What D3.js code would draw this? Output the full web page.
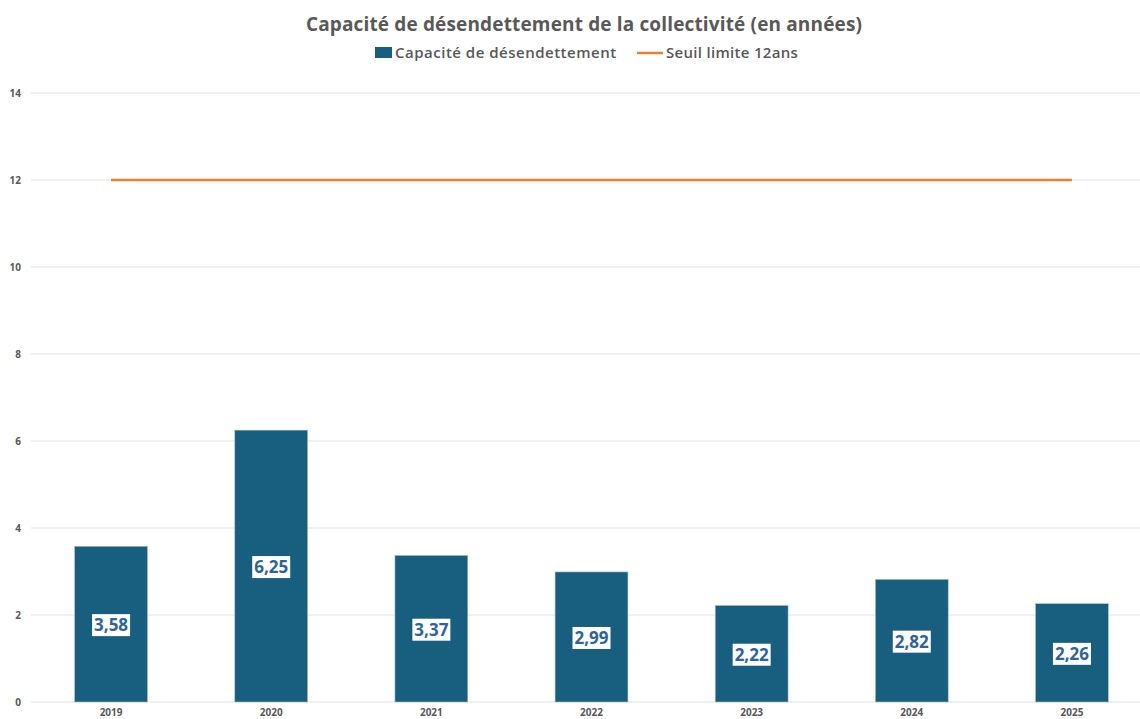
<!DOCTYPE html>
<html>
<head>
<meta charset="utf-8">
<script src="https://cdn.jsdelivr.net/npm/d3@7"></script>
<style>
  body { margin: 0; background: #fff; }
  svg { display: block; font-family: "Open Sans", "DejaVu Sans", sans-serif; }
</style>
</head>
<body>
<svg id="chart"></svg>
<script>
// data
const years = ["2019", "2020", "2021", "2022", "2023", "2024", "2025"];
const capacite = [3.58, 6.25, 3.37, 2.99, 2.22, 2.82, 2.26];
const seuil = [12, 12, 12, 12, 12, 12, 12];
const yTicks = [0, 2, 4, 6, 8, 10, 12, 14];
const legendLabels = ["Capacité de désendettement", "Seuil limite 12ans"];

const width = 1140, height = 719;
const margin = { top: 93, right: -12, bottom: 17, left: 31 };

const barColor = "#175e7f";
const lineColor = "#ed7d31";
const textColor = "#595959";

const svg = d3.select("#chart")
  .attr("width", width)
  .attr("height", height);

const x = d3.scaleBand()
  .domain(years)
  .range([margin.left, width - margin.right])
  .paddingInner(0.545)
  .paddingOuter(0.2725);

const y = d3.scaleLinear()
  .domain([0, 14])
  .range([height - margin.bottom, margin.top]);

// title
svg.append("text")
  .attr("x", 584)
  .attr("y", 31)
  .attr("text-anchor", "middle")
  .attr("font-size", 19)
  .attr("font-weight", "bold")
  .attr("letter-spacing", 0.15)
  .attr("fill", textColor)
  .text("Capacité de désendettement de la collectivité (en années)");

// legend
const legend = svg.append("g");
legend.append("rect")
  .attr("x", 375).attr("y", 47).attr("width", 17).attr("height", 11)
  .attr("fill", barColor);
legend.append("text")
  .attr("x", 395).attr("y", 58)
  .attr("font-size", 15).attr("font-weight", 600).attr("fill", textColor)
  .attr("letter-spacing", 0.5)
  .text(legendLabels[0]);
legend.append("line")
  .attr("x1", 637).attr("x2", 663).attr("y1", 53).attr("y2", 53)
  .attr("stroke", lineColor).attr("stroke-width", 2.5);
legend.append("text")
  .attr("x", 666).attr("y", 58)
  .attr("font-size", 15).attr("font-weight", 600).attr("fill", textColor)
  .attr("letter-spacing", 0.3)
  .text(legendLabels[1]);

// gridlines
svg.append("g")
  .selectAll("line")
  .data(yTicks)
  .enter().append("line")
  .attr("x1", margin.left)
  .attr("x2", width)
  .attr("y1", d => y(d))
  .attr("y2", d => y(d))
  .attr("stroke", "#e3e3e3")
  .attr("stroke-width", 1);

// y axis labels
const yAxis = svg.append("g")
  .attr("transform", `translate(${margin.left - 10},0)`)
  .call(d3.axisLeft(y).tickValues(yTicks).tickSize(0).tickPadding(0));
yAxis.select(".domain").remove();
yAxis.selectAll("text")
  .attr("font-size", 10)
  .attr("font-weight", "bold")
  .attr("font-family", "\"Open Sans\", sans-serif")
  .attr("fill", textColor);

// x axis labels
const xAxis = svg.append("g")
  .attr("transform", `translate(0,${height - margin.bottom})`)
  .call(d3.axisBottom(x).tickSize(0).tickPadding(7));
xAxis.select(".domain").remove();
xAxis.selectAll("text")
  .attr("font-size", 10)
  .attr("font-weight", "bold")
  .attr("font-family", "\"Open Sans\", sans-serif")
  .attr("fill", textColor);

// bars
svg.append("g")
  .selectAll("rect")
  .data(capacite)
  .enter().append("rect")
  .attr("x", (d, i) => x(years[i]))
  .attr("y", d => y(d))
  .attr("width", x.bandwidth())
  .attr("height", d => y(0) - y(d))
  .attr("fill", barColor)
  .attr("stroke", "#a9c4d4")
  .attr("stroke-width", 0.6);

// threshold line
const line = d3.line()
  .x((d, i) => x(years[i]) + x.bandwidth() / 2)
  .y(d => y(d));
svg.append("path")
  .datum(seuil)
  .attr("d", line)
  .attr("fill", "none")
  .attr("stroke", lineColor)
  .attr("stroke-width", 2.5);

// value labels
const fmt = d => d.toFixed(2).replace(".", ",");
const labels = svg.append("g")
  .selectAll("g")
  .data(capacite)
  .enter().append("g")
  .attr("transform", (d, i) =>
    `translate(${x(years[i]) + x.bandwidth() / 2},${(y(d) + y(0)) / 2 + 1})`);

labels.append("rect")
  .attr("x", -19).attr("y", -11)
  .attr("width", 38).attr("height", 22)
  .attr("fill", "#fff");

labels.append("text")
  .attr("text-anchor", "middle")
  .attr("dy", "0.35em")
  .attr("font-size", 17)
  .attr("font-weight", "bold")
  .attr("fill", "#2b65a0")
  .text(fmt);
</script>
</body>
</html>
